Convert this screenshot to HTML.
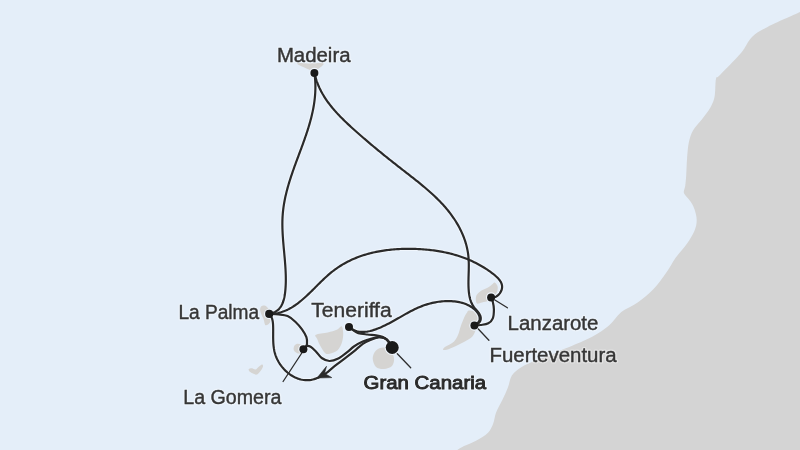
<!DOCTYPE html>
<html><head><meta charset="utf-8">
<style>
html,body{margin:0;padding:0;background:#e4eef9;overflow:hidden;}
svg{display:block;will-change:transform;filter:blur(0.4px);}
text{font-family:"Liberation Sans",sans-serif;-webkit-font-smoothing:antialiased;}
</style></head>
<body>
<svg width="800" height="450" viewBox="0 0 800 450">
<rect width="800" height="450" fill="#e4eef9"/>
<path fill="#d4d4d4" d="M800.00,12.00 C794.67,14.45 776.00,22.53 768.00,26.70 C760.00,30.87 756.50,32.62 752.00,37.00 C747.50,41.38 746.33,46.67 741.00,53.00 C735.67,59.33 724.17,70.67 720.00,75.00 C715.83,79.33 716.88,75.50 716.00,79.00 C715.12,82.50 715.58,91.33 714.70,96.00 C713.82,100.67 712.78,103.18 710.70,107.00 C708.62,110.82 705.10,115.07 702.20,118.90 C699.30,122.73 695.52,126.15 693.30,130.00 C691.08,133.85 689.93,137.37 688.90,142.00 C687.87,146.63 687.55,152.20 687.10,157.80 C686.65,163.40 686.52,170.90 686.20,175.60 C685.88,180.30 685.60,183.18 685.20,186.00 C684.80,188.82 683.53,190.67 683.80,192.50 C684.07,194.33 685.68,195.50 686.80,197.00 C687.92,198.50 689.23,199.52 690.50,201.50 C691.77,203.48 693.37,205.82 694.40,208.90 C695.43,211.98 696.70,216.32 696.70,220.00 C696.70,223.68 696.07,227.00 694.40,231.00 C692.73,235.00 689.83,239.53 686.70,244.00 C683.57,248.47 678.93,253.13 675.60,257.80 C672.27,262.47 670.42,266.75 666.70,272.00 C662.98,277.25 658.20,284.18 653.30,289.30 C648.40,294.42 642.63,298.92 637.30,302.70 C631.97,306.48 626.02,308.20 621.30,312.00 C616.58,315.80 613.63,321.50 609.00,325.50 C604.37,329.50 599.45,332.70 593.50,336.00 C587.55,339.30 578.88,342.85 573.30,345.30 C567.72,347.75 563.33,349.25 560.00,350.70 C556.67,352.15 557.52,352.33 553.30,354.00 C549.08,355.67 540.03,358.48 534.70,360.70 C529.37,362.92 525.08,364.87 521.30,367.30 C517.52,369.73 514.22,371.97 512.00,375.30 C509.78,378.63 509.55,383.30 508.00,387.30 C506.45,391.30 504.70,395.07 502.70,399.30 C500.70,403.53 497.57,408.70 496.00,412.70 C494.43,416.70 494.63,419.97 493.30,423.30 C491.97,426.63 490.88,429.80 488.00,432.70 C485.12,435.60 480.00,438.48 476.00,440.70 C472.00,442.92 467.12,444.45 464.00,446.00 C460.88,447.55 458.42,449.33 457.30,450.00 L820,450 L820,0 L800,0 Z"/>
<g fill="#d5d4d2">
<path d="M297.00,63.50 C297.17,62.50 305.58,63.50 310.00,63.50 C314.42,63.50 322.17,62.58 323.50,63.50 C324.83,64.42 319.75,67.75 318.00,69.00 C316.25,70.25 314.50,70.92 313.00,71.00 C311.50,71.08 311.67,70.75 309.00,69.50 C306.33,68.25 296.83,64.50 297.00,63.50 Z"/>
<path d="M263.30,305.50 C264.38,305.42 265.80,305.58 267.00,307.00 C268.20,308.42 269.93,311.55 270.50,314.00 C271.07,316.45 271.22,319.83 270.40,321.70 C269.58,323.57 266.75,325.65 265.60,325.20 C264.45,324.75 264.35,321.20 263.50,319.00 C262.65,316.80 261.00,313.92 260.50,312.00 C260.00,310.08 260.03,308.58 260.50,307.50 C260.97,306.42 262.22,305.58 263.30,305.50 Z"/>
<path d="M248.80,369.00 C249.22,368.45 250.88,368.12 252.00,368.20 C253.12,368.28 254.42,369.70 255.50,369.50 C256.58,369.30 257.42,367.83 258.50,367.00 C259.58,366.17 261.25,364.58 262.00,364.50 C262.75,364.42 263.25,365.42 263.00,366.50 C262.75,367.58 261.50,369.67 260.50,371.00 C259.50,372.33 258.17,374.03 257.00,374.50 C255.83,374.97 254.75,374.30 253.50,373.80 C252.25,373.30 250.28,372.30 249.50,371.50 C248.72,370.70 248.38,369.55 248.80,369.00 Z"/>
<path d="M296.50,344.00 C297.67,343.67 299.67,343.83 301.00,344.50 C302.33,345.17 304.08,346.67 304.50,348.00 C304.92,349.33 304.58,351.58 303.50,352.50 C302.42,353.42 299.58,353.83 298.00,353.50 C296.42,353.17 294.67,351.67 294.00,350.50 C293.33,349.33 293.58,347.58 294.00,346.50 C294.42,345.42 295.33,344.33 296.50,344.00 Z"/>
<path d="M315.80,334.70 C317.58,333.65 324.32,333.22 327.80,332.40 C331.28,331.58 334.40,330.83 336.70,329.80 C339.00,328.77 340.52,325.67 341.60,326.20 C342.68,326.73 343.13,330.33 343.20,333.00 C343.27,335.67 342.93,339.33 342.00,342.20 C341.07,345.07 339.67,348.27 337.60,350.20 C335.53,352.13 331.70,353.35 329.60,353.80 C327.50,354.25 326.63,354.38 325.00,352.90 C323.37,351.42 321.12,347.27 319.80,344.90 C318.48,342.53 317.77,340.40 317.10,338.70 C316.43,337.00 314.02,335.75 315.80,334.70 Z"/>
<path d="M383.30,347.60 C385.63,347.43 388.22,347.77 390.00,349.50 C391.78,351.23 393.67,355.25 394.00,358.00 C394.33,360.75 393.67,364.17 392.00,366.00 C390.33,367.83 386.67,368.83 384.00,369.00 C381.33,369.17 377.88,368.78 376.00,367.00 C374.12,365.22 372.70,361.05 372.70,358.30 C372.70,355.55 374.23,352.28 376.00,350.50 C377.77,348.72 380.97,347.77 383.30,347.60 Z"/>
<path d="M468.90,310.60 C470.08,310.45 472.73,310.90 474.20,311.50 C475.67,312.10 476.97,312.42 477.70,314.20 C478.43,315.98 478.88,319.68 478.60,322.20 C478.32,324.72 477.03,326.93 476.00,329.30 C474.97,331.67 474.33,334.33 472.40,336.40 C470.47,338.47 467.22,340.07 464.40,341.70 C461.58,343.33 458.45,344.87 455.50,346.20 C452.55,347.53 448.77,349.12 446.70,349.70 C444.63,350.28 443.40,350.15 443.10,349.70 C442.80,349.25 443.12,348.33 444.90,347.00 C446.68,345.67 451.58,343.77 453.80,341.70 C456.02,339.63 457.02,337.27 458.20,334.60 C459.38,331.93 459.87,328.65 460.90,325.70 C461.93,322.75 463.37,319.12 464.40,316.90 C465.43,314.68 466.35,313.45 467.10,312.40 C467.85,311.35 467.72,310.75 468.90,310.60 Z"/>
<path d="M494.60,282.50 C495.52,282.75 497.05,284.58 497.50,286.00 C497.95,287.42 497.88,289.17 497.30,291.00 C496.72,292.83 495.38,295.42 494.00,297.00 C492.62,298.58 491.00,299.58 489.00,300.50 C487.00,301.42 484.00,302.00 482.00,302.50 C480.00,303.00 478.03,304.08 477.00,303.50 C475.97,302.92 475.80,300.50 475.80,299.00 C475.80,297.50 476.05,295.92 477.00,294.50 C477.95,293.08 479.67,291.67 481.50,290.50 C483.33,289.33 486.25,288.50 488.00,287.50 C489.75,286.50 490.90,285.33 492.00,284.50 C493.10,283.67 493.68,282.25 494.60,282.50 Z"/>
</g>
<g fill="#f0f6fd">
<circle cx="314.4" cy="72.9" r="5.1"/>
<circle cx="269.2" cy="313.9" r="5.199999999999999"/>
<circle cx="303.4" cy="349.2" r="5.1"/>
<circle cx="349" cy="326.9" r="5.1"/>
<circle cx="392.2" cy="347.5" r="7.6"/>
<circle cx="491.1" cy="297.4" r="5.1"/>
<circle cx="474.4" cy="325.6" r="5.1"/>
</g>
<g fill="none" stroke="#f0f6fd" stroke-width="4.2" stroke-linecap="round" stroke-linejoin="round">
<path d="M314.40,72.90 L314.61,74.45 L314.80,76.00 L314.96,77.54 L315.09,79.08 L315.20,80.61 L315.29,82.14 L315.35,83.66 L315.39,85.18 L315.40,86.70 L315.39,88.21 L315.36,89.71 L315.31,91.21 L315.24,92.71 L315.14,94.21 L315.03,95.70 L314.90,97.18 L314.74,98.67 L314.57,100.15 L314.38,101.62 L314.17,103.09 L313.95,104.56 L313.71,106.03 L313.45,107.49 L313.18,108.95 L312.89,110.41 L312.58,111.86 L312.26,113.32 L311.93,114.76 L311.58,116.21 L311.23,117.66 L310.85,119.10 L310.47,120.54 L310.08,121.97 L309.67,123.41 L309.25,124.84 L308.83,126.27 L308.39,127.70 L307.94,129.13 L307.49,130.56 L307.03,131.98 L306.56,133.41 L306.08,134.83 L305.59,136.25 L305.10,137.67 L304.61,139.09 L304.11,140.51 L303.60,141.93 L303.09,143.34 L302.57,144.76 L302.06,146.18 L301.54,147.59 L301.01,149.01 L300.49,150.42 L299.96,151.83 L299.43,153.25 L298.91,154.66 L298.38,156.08 L297.85,157.49 L297.32,158.91 L296.80,160.32 L296.28,161.74 L295.76,163.15 L295.24,164.57 L294.72,165.99 L294.21,167.41 L293.71,168.83 L293.20,170.25 L292.71,171.67 L292.22,173.10 L291.73,174.52 L291.25,175.95 L290.78,177.37 L290.32,178.80 L289.87,180.23 L289.42,181.67 L288.98,183.10 L288.56,184.54 L288.14,185.98 L287.73,187.42 L287.34,188.86 L286.95,190.31 L286.58,191.76 L286.22,193.21 L285.88,194.66 L285.54,196.12 L285.22,197.58 L284.92,199.04 L284.63,200.50 L284.35,201.97 L284.10,203.44 L283.85,204.92 L283.63,206.40 L283.42,207.88 L283.23,209.36 L283.06,210.85 L282.90,212.34 L282.77,213.84 L282.66,215.34 L282.56,216.85 L282.49,218.36 L282.43,219.87 L282.39,221.38 L282.38,222.90 L282.37,224.43 L282.39,225.95 L282.41,227.48 L282.45,229.02 L282.51,230.55 L282.58,232.09 L282.65,233.63 L282.74,235.17 L282.84,236.71 L282.95,238.25 L283.06,239.80 L283.18,241.35 L283.31,242.90 L283.44,244.45 L283.58,245.99 L283.71,247.55 L283.86,249.10 L284.00,250.65 L284.14,252.20 L284.29,253.75 L284.43,255.30 L284.57,256.85 L284.71,258.40 L284.84,259.94 L284.97,261.49 L285.09,263.03 L285.21,264.58 L285.32,266.12 L285.42,267.66 L285.51,269.20 L285.59,270.73 L285.66,272.26 L285.72,273.79 L285.77,275.32 L285.80,276.84 L285.82,278.36 L285.82,279.88 L285.81,281.40 L285.78,282.91 L285.73,284.41 L285.66,285.91 L285.57,287.41 L285.47,288.90 L285.34,290.39 L285.19,291.87 L285.01,293.35 L284.80,294.81 L284.55,296.25 L284.27,297.67 L283.94,299.06 L283.57,300.42 L283.14,301.75 L282.66,303.03 L282.11,304.27 L281.50,305.46 L280.82,306.59 L280.06,307.66 L279.23,308.67 L278.31,309.61 L277.31,310.48 L276.21,311.27 L275.02,311.98 L273.73,312.61 L272.33,313.14 L270.82,313.57 L269.20,313.91"/>
<path d="M314.40,72.90 L314.75,74.43 L315.13,75.94 L315.54,77.43 L315.98,78.90 L316.45,80.36 L316.95,81.80 L317.48,83.22 L318.03,84.62 L318.61,86.01 L319.22,87.39 L319.86,88.75 L320.52,90.09 L321.21,91.42 L321.92,92.73 L322.65,94.03 L323.41,95.31 L324.18,96.58 L324.98,97.84 L325.80,99.09 L326.64,100.32 L327.50,101.54 L328.38,102.75 L329.27,103.94 L330.18,105.13 L331.11,106.30 L332.06,107.47 L333.02,108.62 L333.99,109.76 L334.98,110.90 L335.99,112.02 L337.00,113.13 L338.03,114.24 L339.07,115.34 L340.11,116.43 L341.17,117.51 L342.24,118.58 L343.32,119.65 L344.40,120.71 L345.50,121.76 L346.59,122.81 L347.70,123.85 L348.81,124.89 L349.93,125.92 L351.04,126.94 L352.17,127.96 L353.29,128.98 L354.42,129.99 L355.55,131.00 L356.68,132.01 L357.81,133.01 L358.94,134.01 L360.08,135.00 L361.22,136.00 L362.35,136.99 L363.49,137.97 L364.63,138.95 L365.78,139.93 L366.92,140.91 L368.07,141.89 L369.21,142.86 L370.36,143.83 L371.51,144.79 L372.67,145.76 L373.82,146.72 L374.97,147.68 L376.13,148.64 L377.29,149.59 L378.45,150.54 L379.61,151.50 L380.77,152.45 L381.94,153.39 L383.10,154.34 L384.27,155.28 L385.44,156.23 L386.61,157.17 L387.78,158.11 L388.96,159.05 L390.13,159.99 L391.31,160.92 L392.49,161.86 L393.67,162.79 L394.85,163.73 L396.04,164.66 L397.22,165.59 L398.41,166.52 L399.60,167.45 L400.79,168.39 L401.98,169.32 L403.18,170.25 L404.37,171.18 L405.57,172.11 L406.77,173.04 L407.96,173.97 L409.16,174.90 L410.36,175.84 L411.55,176.77 L412.75,177.71 L413.94,178.65 L415.13,179.59 L416.32,180.54 L417.51,181.48 L418.69,182.44 L419.87,183.39 L421.05,184.35 L422.22,185.32 L423.39,186.29 L424.55,187.26 L425.70,188.24 L426.85,189.22 L428.00,190.21 L429.13,191.21 L430.26,192.21 L431.39,193.22 L432.50,194.24 L433.61,195.26 L434.71,196.30 L435.79,197.34 L436.87,198.38 L437.94,199.44 L439.00,200.51 L440.05,201.58 L441.09,202.67 L442.12,203.76 L443.13,204.86 L444.13,205.98 L445.12,207.10 L446.10,208.24 L447.06,209.39 L448.01,210.55 L448.95,211.72 L449.87,212.90 L450.78,214.10 L451.67,215.30 L452.54,216.52 L453.40,217.76 L454.24,219.00 L455.07,220.26 L455.88,221.53 L456.66,222.81 L457.43,224.11 L458.18,225.41 L458.91,226.73 L459.61,228.05 L460.30,229.39 L460.96,230.74 L461.60,232.10 L462.22,233.47 L462.81,234.85 L463.38,236.24 L463.92,237.64 L464.44,239.04 L464.93,240.46 L465.40,241.89 L465.83,243.33 L466.24,244.77 L466.62,246.22 L466.97,247.68 L467.29,249.15 L467.58,250.63 L467.84,252.12 L468.07,253.61 L468.26,255.11 L468.42,256.62 L468.55,258.13 L468.65,259.65 L468.72,261.18 L468.77,262.71 L468.80,264.24 L468.80,265.78 L468.79,267.32 L468.77,268.86 L468.74,270.40 L468.70,271.94 L468.65,273.48 L468.61,275.02 L468.56,276.55 L468.52,278.08 L468.49,279.61 L468.46,281.13 L468.45,282.65 L468.46,284.16 L468.48,285.67 L468.53,287.16 L468.60,288.65 L468.70,290.13 L468.82,291.59 L468.98,293.05 L469.18,294.49 L469.42,295.92 L469.70,297.34 L470.04,298.73 L470.44,300.11 L470.91,301.47 L471.45,302.80 L472.08,304.11 L472.80,305.40 L473.61,306.65 L474.53,307.87 L475.54,309.07 L476.59,310.25 L477.61,311.44 L478.57,312.65 L479.40,313.90 L480.05,315.18 L480.52,316.48 L480.77,317.78 L480.78,319.07 L480.52,320.33 L479.98,321.54 L479.11,322.69 L477.91,323.76 L476.35,324.74 L474.40,325.60"/>
<path d="M269.20,313.90 L270.76,313.89 L272.29,313.81 L273.79,313.68 L275.27,313.50 L276.73,313.26 L278.17,312.97 L279.59,312.63 L280.98,312.24 L282.36,311.81 L283.71,311.33 L285.05,310.80 L286.37,310.24 L287.67,309.63 L288.95,308.99 L290.22,308.31 L291.48,307.59 L292.72,306.84 L293.95,306.05 L295.16,305.24 L296.36,304.39 L297.55,303.52 L298.73,302.62 L299.90,301.69 L301.06,300.75 L302.21,299.78 L303.36,298.79 L304.50,297.78 L305.63,296.76 L306.75,295.72 L307.87,294.67 L308.99,293.60 L310.10,292.53 L311.21,291.44 L312.32,290.35 L313.43,289.26 L314.53,288.15 L315.64,287.05 L316.75,285.94 L317.86,284.84 L318.97,283.74 L320.08,282.64 L321.20,281.54 L322.32,280.46 L323.45,279.38 L324.58,278.31 L325.72,277.25 L326.87,276.21 L328.03,275.18 L329.19,274.17 L330.37,273.17 L331.55,272.20 L332.75,271.24 L333.95,270.31 L335.17,269.40 L336.40,268.52 L337.65,267.66 L338.90,266.82 L340.16,266.00 L341.44,265.20 L342.73,264.43 L344.02,263.68 L345.33,262.95 L346.64,262.24 L347.97,261.55 L349.31,260.89 L350.65,260.24 L352.01,259.62 L353.37,259.01 L354.74,258.43 L356.12,257.86 L357.51,257.31 L358.90,256.79 L360.31,256.28 L361.72,255.79 L363.14,255.32 L364.56,254.87 L365.99,254.44 L367.43,254.02 L368.88,253.63 L370.33,253.25 L371.78,252.88 L373.24,252.54 L374.71,252.21 L376.18,251.90 L377.66,251.61 L379.14,251.33 L380.63,251.06 L382.12,250.82 L383.62,250.59 L385.12,250.37 L386.62,250.17 L388.12,249.98 L389.63,249.81 L391.14,249.66 L392.66,249.52 L394.18,249.39 L395.69,249.27 L397.21,249.17 L398.74,249.09 L400.26,249.01 L401.79,248.95 L403.31,248.90 L404.84,248.87 L406.37,248.85 L407.90,248.83 L409.43,248.83 L410.95,248.85 L412.48,248.87 L414.01,248.91 L415.54,248.95 L417.06,249.01 L418.59,249.08 L420.11,249.16 L421.63,249.25 L423.16,249.36 L424.67,249.48 L426.19,249.61 L427.71,249.75 L429.22,249.90 L430.73,250.07 L432.24,250.25 L433.74,250.45 L435.25,250.66 L436.75,250.88 L438.24,251.12 L439.73,251.37 L441.22,251.63 L442.71,251.91 L444.19,252.21 L445.67,252.52 L447.14,252.84 L448.61,253.18 L450.08,253.54 L451.54,253.91 L452.99,254.30 L454.44,254.70 L455.89,255.12 L457.32,255.55 L458.76,256.01 L460.19,256.48 L461.61,256.96 L463.03,257.47 L464.44,257.99 L465.84,258.53 L467.24,259.08 L468.63,259.66 L470.01,260.25 L471.39,260.86 L472.76,261.49 L474.12,262.14 L475.47,262.81 L476.82,263.49 L478.16,264.20 L479.49,264.92 L480.82,265.67 L482.13,266.43 L483.44,267.22 L484.73,268.02 L486.02,268.85 L487.30,269.69 L488.57,270.56 L489.83,271.45 L491.09,272.36 L492.33,273.29 L493.56,274.24 L494.76,275.21 L495.92,276.21 L497.02,277.24 L498.06,278.29 L499.01,279.37 L499.86,280.48 L500.59,281.61 L501.20,282.79 L501.67,283.99 L501.98,285.23 L502.12,286.50 L502.07,287.81 L501.83,289.16 L501.37,290.54 L500.69,291.96 L499.79,293.35 L498.71,294.64 L497.46,295.78 L496.05,296.69 L494.51,297.31 L492.85,297.57 L491.10,297.40"/>
<path d="M349.00,326.90 L350.25,327.93 L351.54,328.83 L352.86,329.60 L354.20,330.25 L355.58,330.79 L356.97,331.21 L358.39,331.53 L359.83,331.75 L361.29,331.88 L362.75,331.92 L364.23,331.87 L365.72,331.75 L367.22,331.55 L368.72,331.29 L370.22,330.96 L371.72,330.58 L373.22,330.14 L374.71,329.66 L376.20,329.14 L377.67,328.59 L379.13,328.00 L380.58,327.40 L382.01,326.77 L383.42,326.12 L384.81,325.46 L386.19,324.79 L387.56,324.11 L388.91,323.41 L390.25,322.70 L391.58,321.99 L392.90,321.26 L394.21,320.53 L395.51,319.80 L396.81,319.06 L398.10,318.32 L399.39,317.58 L400.68,316.84 L401.97,316.10 L403.25,315.37 L404.54,314.63 L405.83,313.91 L407.12,313.19 L408.42,312.48 L409.72,311.78 L411.03,311.09 L412.35,310.41 L413.68,309.75 L415.02,309.10 L416.36,308.47 L417.73,307.85 L419.10,307.26 L420.49,306.68 L421.90,306.12 L423.32,305.59 L424.77,305.08 L426.23,304.60 L427.71,304.14 L429.22,303.71 L430.74,303.31 L432.29,302.94 L433.85,302.60 L435.43,302.30 L437.02,302.02 L438.63,301.78 L440.23,301.58 L441.85,301.41 L443.47,301.27 L445.08,301.18 L446.70,301.12 L448.31,301.10 L449.91,301.13 L451.50,301.19 L453.08,301.30 L454.64,301.45 L456.19,301.64 L457.72,301.88 L459.23,302.17 L460.71,302.50 L462.16,302.88 L463.59,303.31 L464.98,303.79 L466.34,304.32 L467.66,304.90 L468.94,305.54 L470.18,306.23 L471.38,306.97 L472.53,307.77 L473.62,308.62 L474.67,309.54 L475.67,310.51 L476.60,311.54 L477.46,312.62 L478.21,313.75 L478.83,314.91 L479.30,316.10 L479.59,317.31 L479.67,318.53 L479.52,319.75 L479.11,320.97 L478.42,322.17 L477.42,323.35 L476.09,324.49 L474.40,325.60"/>
<path d="M491.10,297.40 C491.38,298.12 492.33,299.70 492.80,301.70 C493.27,303.70 493.90,306.63 493.90,309.40 C493.90,312.17 493.73,315.98 492.80,318.30 C491.87,320.62 490.33,322.18 488.30,323.30 C486.27,324.42 482.92,324.62 480.60,325.00 C478.28,325.38 475.43,325.50 474.40,325.60"/>
<path d="M269.20,313.90 C270.78,313.98 275.63,314.03 278.70,314.40 C281.77,314.77 284.83,314.88 287.60,316.10 C290.37,317.32 292.90,319.48 295.30,321.70 C297.70,323.92 300.15,326.82 302.00,329.40 C303.85,331.98 305.57,334.78 306.40,337.20 C307.23,339.62 307.18,342.05 307.00,343.90 C306.82,345.75 305.90,347.42 305.30,348.30 C304.70,349.18 303.72,349.05 303.40,349.20"/>
<path d="M303.40,349.20 C303.83,348.70 304.80,346.62 306.00,346.20 C307.20,345.78 308.92,345.78 310.60,346.70 C312.28,347.62 314.25,349.82 316.10,351.70 C317.95,353.58 319.48,356.45 321.70,358.00 C323.92,359.55 326.63,360.92 329.40,361.00 C332.17,361.08 335.33,359.97 338.30,358.50 C341.27,357.03 344.60,354.20 347.20,352.20 C349.80,350.20 351.30,348.27 353.90,346.50 C356.50,344.73 359.83,342.93 362.80,341.60 C365.77,340.27 369.03,339.25 371.70,338.50 C374.37,337.75 376.75,337.18 378.80,337.10 C380.85,337.02 382.47,337.35 384.00,338.00 C385.53,338.65 386.63,339.43 388.00,341.00 C389.37,342.57 391.50,346.33 392.20,347.40"/>
<path d="M392.20,347.40 C391.50,346.33 389.37,342.57 388.00,341.00 C386.63,339.43 385.53,338.65 384.00,338.00 C382.47,337.35 380.85,336.87 378.80,337.10 C376.75,337.33 374.37,338.28 371.70,339.40 C369.03,340.52 365.77,341.80 362.80,343.80 C359.83,345.80 357.05,348.85 353.90,351.40 C350.75,353.95 347.42,356.40 343.90,359.10 C340.38,361.80 335.77,365.25 332.80,367.60 C329.83,369.95 328.57,371.48 326.10,373.20 C323.63,374.92 319.35,377.12 318.00,377.90"/>
<path d="M317.20,378.00 L315.70,378.62 L314.20,379.13 L312.70,379.54 L311.19,379.85 L309.69,380.07 L308.18,380.19 L306.69,380.21 L305.20,380.15 L303.72,380.01 L302.25,379.78 L300.80,379.46 L299.36,379.07 L297.94,378.61 L296.54,378.07 L295.16,377.46 L293.81,376.78 L292.48,376.04 L291.17,375.24 L289.90,374.38 L288.66,373.46 L287.46,372.48 L286.29,371.45 L285.16,370.38 L284.07,369.26 L283.02,368.09 L282.02,366.88 L281.06,365.64 L280.16,364.36 L279.30,363.04 L278.50,361.70 L277.75,360.33 L277.05,358.93 L276.42,357.51 L275.85,356.07 L275.34,354.61 L274.89,353.14 L274.51,351.65 L274.19,350.16 L273.92,348.65 L273.71,347.14 L273.53,345.62 L273.40,344.09 L273.30,342.56 L273.23,341.02 L273.19,339.49 L273.16,337.95 L273.15,336.41 L273.16,334.87 L273.16,333.34 L273.17,331.81 L273.18,330.29 L273.17,328.77 L273.15,327.26 L273.11,325.77 L273.04,324.28 L272.92,322.83 L272.72,321.40 L272.45,320.01 L272.07,318.67 L271.57,317.38 L270.94,316.15 L270.16,314.99 L269.20,313.90"/>
<path d="M349.00,326.90 C349.67,327.42 351.45,328.97 353.00,330.00 C354.55,331.03 355.93,332.35 358.30,333.10 C360.67,333.85 364.23,334.13 367.20,334.50 C370.17,334.87 373.57,334.93 376.10,335.30 C378.63,335.67 380.62,336.02 382.40,336.70 C384.18,337.38 385.62,338.37 386.80,339.40 C387.98,340.43 388.60,341.57 389.50,342.90 C390.40,344.23 391.75,346.65 392.20,347.40"/>
</g>
<g fill="none" stroke="#2a2a2a" stroke-width="2.2" stroke-linecap="round" stroke-linejoin="round">
<path d="M314.40,72.90 L314.61,74.45 L314.80,76.00 L314.96,77.54 L315.09,79.08 L315.20,80.61 L315.29,82.14 L315.35,83.66 L315.39,85.18 L315.40,86.70 L315.39,88.21 L315.36,89.71 L315.31,91.21 L315.24,92.71 L315.14,94.21 L315.03,95.70 L314.90,97.18 L314.74,98.67 L314.57,100.15 L314.38,101.62 L314.17,103.09 L313.95,104.56 L313.71,106.03 L313.45,107.49 L313.18,108.95 L312.89,110.41 L312.58,111.86 L312.26,113.32 L311.93,114.76 L311.58,116.21 L311.23,117.66 L310.85,119.10 L310.47,120.54 L310.08,121.97 L309.67,123.41 L309.25,124.84 L308.83,126.27 L308.39,127.70 L307.94,129.13 L307.49,130.56 L307.03,131.98 L306.56,133.41 L306.08,134.83 L305.59,136.25 L305.10,137.67 L304.61,139.09 L304.11,140.51 L303.60,141.93 L303.09,143.34 L302.57,144.76 L302.06,146.18 L301.54,147.59 L301.01,149.01 L300.49,150.42 L299.96,151.83 L299.43,153.25 L298.91,154.66 L298.38,156.08 L297.85,157.49 L297.32,158.91 L296.80,160.32 L296.28,161.74 L295.76,163.15 L295.24,164.57 L294.72,165.99 L294.21,167.41 L293.71,168.83 L293.20,170.25 L292.71,171.67 L292.22,173.10 L291.73,174.52 L291.25,175.95 L290.78,177.37 L290.32,178.80 L289.87,180.23 L289.42,181.67 L288.98,183.10 L288.56,184.54 L288.14,185.98 L287.73,187.42 L287.34,188.86 L286.95,190.31 L286.58,191.76 L286.22,193.21 L285.88,194.66 L285.54,196.12 L285.22,197.58 L284.92,199.04 L284.63,200.50 L284.35,201.97 L284.10,203.44 L283.85,204.92 L283.63,206.40 L283.42,207.88 L283.23,209.36 L283.06,210.85 L282.90,212.34 L282.77,213.84 L282.66,215.34 L282.56,216.85 L282.49,218.36 L282.43,219.87 L282.39,221.38 L282.38,222.90 L282.37,224.43 L282.39,225.95 L282.41,227.48 L282.45,229.02 L282.51,230.55 L282.58,232.09 L282.65,233.63 L282.74,235.17 L282.84,236.71 L282.95,238.25 L283.06,239.80 L283.18,241.35 L283.31,242.90 L283.44,244.45 L283.58,245.99 L283.71,247.55 L283.86,249.10 L284.00,250.65 L284.14,252.20 L284.29,253.75 L284.43,255.30 L284.57,256.85 L284.71,258.40 L284.84,259.94 L284.97,261.49 L285.09,263.03 L285.21,264.58 L285.32,266.12 L285.42,267.66 L285.51,269.20 L285.59,270.73 L285.66,272.26 L285.72,273.79 L285.77,275.32 L285.80,276.84 L285.82,278.36 L285.82,279.88 L285.81,281.40 L285.78,282.91 L285.73,284.41 L285.66,285.91 L285.57,287.41 L285.47,288.90 L285.34,290.39 L285.19,291.87 L285.01,293.35 L284.80,294.81 L284.55,296.25 L284.27,297.67 L283.94,299.06 L283.57,300.42 L283.14,301.75 L282.66,303.03 L282.11,304.27 L281.50,305.46 L280.82,306.59 L280.06,307.66 L279.23,308.67 L278.31,309.61 L277.31,310.48 L276.21,311.27 L275.02,311.98 L273.73,312.61 L272.33,313.14 L270.82,313.57 L269.20,313.91"/>
<path d="M314.40,72.90 L314.75,74.43 L315.13,75.94 L315.54,77.43 L315.98,78.90 L316.45,80.36 L316.95,81.80 L317.48,83.22 L318.03,84.62 L318.61,86.01 L319.22,87.39 L319.86,88.75 L320.52,90.09 L321.21,91.42 L321.92,92.73 L322.65,94.03 L323.41,95.31 L324.18,96.58 L324.98,97.84 L325.80,99.09 L326.64,100.32 L327.50,101.54 L328.38,102.75 L329.27,103.94 L330.18,105.13 L331.11,106.30 L332.06,107.47 L333.02,108.62 L333.99,109.76 L334.98,110.90 L335.99,112.02 L337.00,113.13 L338.03,114.24 L339.07,115.34 L340.11,116.43 L341.17,117.51 L342.24,118.58 L343.32,119.65 L344.40,120.71 L345.50,121.76 L346.59,122.81 L347.70,123.85 L348.81,124.89 L349.93,125.92 L351.04,126.94 L352.17,127.96 L353.29,128.98 L354.42,129.99 L355.55,131.00 L356.68,132.01 L357.81,133.01 L358.94,134.01 L360.08,135.00 L361.22,136.00 L362.35,136.99 L363.49,137.97 L364.63,138.95 L365.78,139.93 L366.92,140.91 L368.07,141.89 L369.21,142.86 L370.36,143.83 L371.51,144.79 L372.67,145.76 L373.82,146.72 L374.97,147.68 L376.13,148.64 L377.29,149.59 L378.45,150.54 L379.61,151.50 L380.77,152.45 L381.94,153.39 L383.10,154.34 L384.27,155.28 L385.44,156.23 L386.61,157.17 L387.78,158.11 L388.96,159.05 L390.13,159.99 L391.31,160.92 L392.49,161.86 L393.67,162.79 L394.85,163.73 L396.04,164.66 L397.22,165.59 L398.41,166.52 L399.60,167.45 L400.79,168.39 L401.98,169.32 L403.18,170.25 L404.37,171.18 L405.57,172.11 L406.77,173.04 L407.96,173.97 L409.16,174.90 L410.36,175.84 L411.55,176.77 L412.75,177.71 L413.94,178.65 L415.13,179.59 L416.32,180.54 L417.51,181.48 L418.69,182.44 L419.87,183.39 L421.05,184.35 L422.22,185.32 L423.39,186.29 L424.55,187.26 L425.70,188.24 L426.85,189.22 L428.00,190.21 L429.13,191.21 L430.26,192.21 L431.39,193.22 L432.50,194.24 L433.61,195.26 L434.71,196.30 L435.79,197.34 L436.87,198.38 L437.94,199.44 L439.00,200.51 L440.05,201.58 L441.09,202.67 L442.12,203.76 L443.13,204.86 L444.13,205.98 L445.12,207.10 L446.10,208.24 L447.06,209.39 L448.01,210.55 L448.95,211.72 L449.87,212.90 L450.78,214.10 L451.67,215.30 L452.54,216.52 L453.40,217.76 L454.24,219.00 L455.07,220.26 L455.88,221.53 L456.66,222.81 L457.43,224.11 L458.18,225.41 L458.91,226.73 L459.61,228.05 L460.30,229.39 L460.96,230.74 L461.60,232.10 L462.22,233.47 L462.81,234.85 L463.38,236.24 L463.92,237.64 L464.44,239.04 L464.93,240.46 L465.40,241.89 L465.83,243.33 L466.24,244.77 L466.62,246.22 L466.97,247.68 L467.29,249.15 L467.58,250.63 L467.84,252.12 L468.07,253.61 L468.26,255.11 L468.42,256.62 L468.55,258.13 L468.65,259.65 L468.72,261.18 L468.77,262.71 L468.80,264.24 L468.80,265.78 L468.79,267.32 L468.77,268.86 L468.74,270.40 L468.70,271.94 L468.65,273.48 L468.61,275.02 L468.56,276.55 L468.52,278.08 L468.49,279.61 L468.46,281.13 L468.45,282.65 L468.46,284.16 L468.48,285.67 L468.53,287.16 L468.60,288.65 L468.70,290.13 L468.82,291.59 L468.98,293.05 L469.18,294.49 L469.42,295.92 L469.70,297.34 L470.04,298.73 L470.44,300.11 L470.91,301.47 L471.45,302.80 L472.08,304.11 L472.80,305.40 L473.61,306.65 L474.53,307.87 L475.54,309.07 L476.59,310.25 L477.61,311.44 L478.57,312.65 L479.40,313.90 L480.05,315.18 L480.52,316.48 L480.77,317.78 L480.78,319.07 L480.52,320.33 L479.98,321.54 L479.11,322.69 L477.91,323.76 L476.35,324.74 L474.40,325.60"/>
<path d="M269.20,313.90 L270.76,313.89 L272.29,313.81 L273.79,313.68 L275.27,313.50 L276.73,313.26 L278.17,312.97 L279.59,312.63 L280.98,312.24 L282.36,311.81 L283.71,311.33 L285.05,310.80 L286.37,310.24 L287.67,309.63 L288.95,308.99 L290.22,308.31 L291.48,307.59 L292.72,306.84 L293.95,306.05 L295.16,305.24 L296.36,304.39 L297.55,303.52 L298.73,302.62 L299.90,301.69 L301.06,300.75 L302.21,299.78 L303.36,298.79 L304.50,297.78 L305.63,296.76 L306.75,295.72 L307.87,294.67 L308.99,293.60 L310.10,292.53 L311.21,291.44 L312.32,290.35 L313.43,289.26 L314.53,288.15 L315.64,287.05 L316.75,285.94 L317.86,284.84 L318.97,283.74 L320.08,282.64 L321.20,281.54 L322.32,280.46 L323.45,279.38 L324.58,278.31 L325.72,277.25 L326.87,276.21 L328.03,275.18 L329.19,274.17 L330.37,273.17 L331.55,272.20 L332.75,271.24 L333.95,270.31 L335.17,269.40 L336.40,268.52 L337.65,267.66 L338.90,266.82 L340.16,266.00 L341.44,265.20 L342.73,264.43 L344.02,263.68 L345.33,262.95 L346.64,262.24 L347.97,261.55 L349.31,260.89 L350.65,260.24 L352.01,259.62 L353.37,259.01 L354.74,258.43 L356.12,257.86 L357.51,257.31 L358.90,256.79 L360.31,256.28 L361.72,255.79 L363.14,255.32 L364.56,254.87 L365.99,254.44 L367.43,254.02 L368.88,253.63 L370.33,253.25 L371.78,252.88 L373.24,252.54 L374.71,252.21 L376.18,251.90 L377.66,251.61 L379.14,251.33 L380.63,251.06 L382.12,250.82 L383.62,250.59 L385.12,250.37 L386.62,250.17 L388.12,249.98 L389.63,249.81 L391.14,249.66 L392.66,249.52 L394.18,249.39 L395.69,249.27 L397.21,249.17 L398.74,249.09 L400.26,249.01 L401.79,248.95 L403.31,248.90 L404.84,248.87 L406.37,248.85 L407.90,248.83 L409.43,248.83 L410.95,248.85 L412.48,248.87 L414.01,248.91 L415.54,248.95 L417.06,249.01 L418.59,249.08 L420.11,249.16 L421.63,249.25 L423.16,249.36 L424.67,249.48 L426.19,249.61 L427.71,249.75 L429.22,249.90 L430.73,250.07 L432.24,250.25 L433.74,250.45 L435.25,250.66 L436.75,250.88 L438.24,251.12 L439.73,251.37 L441.22,251.63 L442.71,251.91 L444.19,252.21 L445.67,252.52 L447.14,252.84 L448.61,253.18 L450.08,253.54 L451.54,253.91 L452.99,254.30 L454.44,254.70 L455.89,255.12 L457.32,255.55 L458.76,256.01 L460.19,256.48 L461.61,256.96 L463.03,257.47 L464.44,257.99 L465.84,258.53 L467.24,259.08 L468.63,259.66 L470.01,260.25 L471.39,260.86 L472.76,261.49 L474.12,262.14 L475.47,262.81 L476.82,263.49 L478.16,264.20 L479.49,264.92 L480.82,265.67 L482.13,266.43 L483.44,267.22 L484.73,268.02 L486.02,268.85 L487.30,269.69 L488.57,270.56 L489.83,271.45 L491.09,272.36 L492.33,273.29 L493.56,274.24 L494.76,275.21 L495.92,276.21 L497.02,277.24 L498.06,278.29 L499.01,279.37 L499.86,280.48 L500.59,281.61 L501.20,282.79 L501.67,283.99 L501.98,285.23 L502.12,286.50 L502.07,287.81 L501.83,289.16 L501.37,290.54 L500.69,291.96 L499.79,293.35 L498.71,294.64 L497.46,295.78 L496.05,296.69 L494.51,297.31 L492.85,297.57 L491.10,297.40"/>
<path d="M349.00,326.90 L350.25,327.93 L351.54,328.83 L352.86,329.60 L354.20,330.25 L355.58,330.79 L356.97,331.21 L358.39,331.53 L359.83,331.75 L361.29,331.88 L362.75,331.92 L364.23,331.87 L365.72,331.75 L367.22,331.55 L368.72,331.29 L370.22,330.96 L371.72,330.58 L373.22,330.14 L374.71,329.66 L376.20,329.14 L377.67,328.59 L379.13,328.00 L380.58,327.40 L382.01,326.77 L383.42,326.12 L384.81,325.46 L386.19,324.79 L387.56,324.11 L388.91,323.41 L390.25,322.70 L391.58,321.99 L392.90,321.26 L394.21,320.53 L395.51,319.80 L396.81,319.06 L398.10,318.32 L399.39,317.58 L400.68,316.84 L401.97,316.10 L403.25,315.37 L404.54,314.63 L405.83,313.91 L407.12,313.19 L408.42,312.48 L409.72,311.78 L411.03,311.09 L412.35,310.41 L413.68,309.75 L415.02,309.10 L416.36,308.47 L417.73,307.85 L419.10,307.26 L420.49,306.68 L421.90,306.12 L423.32,305.59 L424.77,305.08 L426.23,304.60 L427.71,304.14 L429.22,303.71 L430.74,303.31 L432.29,302.94 L433.85,302.60 L435.43,302.30 L437.02,302.02 L438.63,301.78 L440.23,301.58 L441.85,301.41 L443.47,301.27 L445.08,301.18 L446.70,301.12 L448.31,301.10 L449.91,301.13 L451.50,301.19 L453.08,301.30 L454.64,301.45 L456.19,301.64 L457.72,301.88 L459.23,302.17 L460.71,302.50 L462.16,302.88 L463.59,303.31 L464.98,303.79 L466.34,304.32 L467.66,304.90 L468.94,305.54 L470.18,306.23 L471.38,306.97 L472.53,307.77 L473.62,308.62 L474.67,309.54 L475.67,310.51 L476.60,311.54 L477.46,312.62 L478.21,313.75 L478.83,314.91 L479.30,316.10 L479.59,317.31 L479.67,318.53 L479.52,319.75 L479.11,320.97 L478.42,322.17 L477.42,323.35 L476.09,324.49 L474.40,325.60"/>
<path d="M491.10,297.40 C491.38,298.12 492.33,299.70 492.80,301.70 C493.27,303.70 493.90,306.63 493.90,309.40 C493.90,312.17 493.73,315.98 492.80,318.30 C491.87,320.62 490.33,322.18 488.30,323.30 C486.27,324.42 482.92,324.62 480.60,325.00 C478.28,325.38 475.43,325.50 474.40,325.60"/>
<path d="M269.20,313.90 C270.78,313.98 275.63,314.03 278.70,314.40 C281.77,314.77 284.83,314.88 287.60,316.10 C290.37,317.32 292.90,319.48 295.30,321.70 C297.70,323.92 300.15,326.82 302.00,329.40 C303.85,331.98 305.57,334.78 306.40,337.20 C307.23,339.62 307.18,342.05 307.00,343.90 C306.82,345.75 305.90,347.42 305.30,348.30 C304.70,349.18 303.72,349.05 303.40,349.20"/>
<path d="M303.40,349.20 C303.83,348.70 304.80,346.62 306.00,346.20 C307.20,345.78 308.92,345.78 310.60,346.70 C312.28,347.62 314.25,349.82 316.10,351.70 C317.95,353.58 319.48,356.45 321.70,358.00 C323.92,359.55 326.63,360.92 329.40,361.00 C332.17,361.08 335.33,359.97 338.30,358.50 C341.27,357.03 344.60,354.20 347.20,352.20 C349.80,350.20 351.30,348.27 353.90,346.50 C356.50,344.73 359.83,342.93 362.80,341.60 C365.77,340.27 369.03,339.25 371.70,338.50 C374.37,337.75 376.75,337.18 378.80,337.10 C380.85,337.02 382.47,337.35 384.00,338.00 C385.53,338.65 386.63,339.43 388.00,341.00 C389.37,342.57 391.50,346.33 392.20,347.40"/>
<path d="M392.20,347.40 C391.50,346.33 389.37,342.57 388.00,341.00 C386.63,339.43 385.53,338.65 384.00,338.00 C382.47,337.35 380.85,336.87 378.80,337.10 C376.75,337.33 374.37,338.28 371.70,339.40 C369.03,340.52 365.77,341.80 362.80,343.80 C359.83,345.80 357.05,348.85 353.90,351.40 C350.75,353.95 347.42,356.40 343.90,359.10 C340.38,361.80 335.77,365.25 332.80,367.60 C329.83,369.95 328.57,371.48 326.10,373.20 C323.63,374.92 319.35,377.12 318.00,377.90"/>
<path d="M317.20,378.00 L315.70,378.62 L314.20,379.13 L312.70,379.54 L311.19,379.85 L309.69,380.07 L308.18,380.19 L306.69,380.21 L305.20,380.15 L303.72,380.01 L302.25,379.78 L300.80,379.46 L299.36,379.07 L297.94,378.61 L296.54,378.07 L295.16,377.46 L293.81,376.78 L292.48,376.04 L291.17,375.24 L289.90,374.38 L288.66,373.46 L287.46,372.48 L286.29,371.45 L285.16,370.38 L284.07,369.26 L283.02,368.09 L282.02,366.88 L281.06,365.64 L280.16,364.36 L279.30,363.04 L278.50,361.70 L277.75,360.33 L277.05,358.93 L276.42,357.51 L275.85,356.07 L275.34,354.61 L274.89,353.14 L274.51,351.65 L274.19,350.16 L273.92,348.65 L273.71,347.14 L273.53,345.62 L273.40,344.09 L273.30,342.56 L273.23,341.02 L273.19,339.49 L273.16,337.95 L273.15,336.41 L273.16,334.87 L273.16,333.34 L273.17,331.81 L273.18,330.29 L273.17,328.77 L273.15,327.26 L273.11,325.77 L273.04,324.28 L272.92,322.83 L272.72,321.40 L272.45,320.01 L272.07,318.67 L271.57,317.38 L270.94,316.15 L270.16,314.99 L269.20,313.90"/>
<path d="M349.00,326.90 C349.67,327.42 351.45,328.97 353.00,330.00 C354.55,331.03 355.93,332.35 358.30,333.10 C360.67,333.85 364.23,334.13 367.20,334.50 C370.17,334.87 373.57,334.93 376.10,335.30 C378.63,335.67 380.62,336.02 382.40,336.70 C384.18,337.38 385.62,338.37 386.80,339.40 C387.98,340.43 388.60,341.57 389.50,342.90 C390.40,344.23 391.75,346.65 392.20,347.40"/>
</g>
<path d="M317,378 L326.5,366.3 L324.5,373.4 L331.8,377.6 Z" fill="#2a2a2a" stroke="#2a2a2a" stroke-width="0.6" stroke-linejoin="round"/>
<g stroke="#2e2e2e" stroke-width="1.3" stroke-linecap="round">
<line x1="301.8" y1="353" x2="283.1" y2="381.5"/>
<line x1="397.3" y1="353.7" x2="410.7" y2="367.7"/>
<line x1="494.9" y1="300" x2="507.4" y2="307.8"/>
<line x1="478.3" y1="329" x2="488.9" y2="340.2"/>
</g>
<g fill="#1a1a1a">
<circle cx="314.4" cy="72.9" r="4"/>
<circle cx="269.2" cy="313.9" r="4.1"/>
<circle cx="303.4" cy="349.2" r="4"/>
<circle cx="349" cy="326.9" r="4"/>
<circle cx="392.2" cy="347.5" r="6.5"/>
<circle cx="491.1" cy="297.4" r="4"/>
<circle cx="474.4" cy="325.6" r="4"/>
</g>
<g font-size="19.5" fill="none" stroke="#ffffff" stroke-opacity="0.35" stroke-width="3" stroke-linejoin="round">
<text x="276.92" y="62.27" textLength="73.59" lengthAdjust="spacingAndGlyphs">Madeira</text>
<text x="178.38" y="318.77" textLength="80.75" lengthAdjust="spacingAndGlyphs">La Palma</text>
<text x="311.35" y="316.67" textLength="80.33" lengthAdjust="spacingAndGlyphs">Teneriffa</text>
<text x="183.28" y="404.07" textLength="98.23" lengthAdjust="spacingAndGlyphs">La Gomera</text>
<text x="507.63" y="330.27" textLength="90.77" lengthAdjust="spacingAndGlyphs">Lanzarote</text>
<text x="489.45" y="362.27" textLength="127.14" lengthAdjust="spacingAndGlyphs">Fuerteventura</text>
<text x="363.55" y="389.34" font-size="18.3" textLength="122.55" lengthAdjust="spacingAndGlyphs">Gran Canaria</text>
</g>
<g font-size="19.5" fill="#363636" stroke="#363636" stroke-width="0.4">
<text x="276.92" y="62.27" textLength="73.59" lengthAdjust="spacingAndGlyphs">Madeira</text>
<text x="178.38" y="318.77" textLength="80.75" lengthAdjust="spacingAndGlyphs">La Palma</text>
<text x="311.35" y="316.67" textLength="80.33" lengthAdjust="spacingAndGlyphs">Teneriffa</text>
<text x="183.28" y="404.07" textLength="98.23" lengthAdjust="spacingAndGlyphs">La Gomera</text>
<text x="507.63" y="330.27" textLength="90.77" lengthAdjust="spacingAndGlyphs">Lanzarote</text>
<text x="489.45" y="362.27" textLength="127.14" lengthAdjust="spacingAndGlyphs">Fuerteventura</text>
<text x="363.55" y="389.34" textLength="122.55" lengthAdjust="spacingAndGlyphs" font-size="18.3" fill="#2a2a2a" stroke="#2a2a2a" stroke-width="0.9">Gran Canaria</text>
</g>
</svg>
</body></html>
